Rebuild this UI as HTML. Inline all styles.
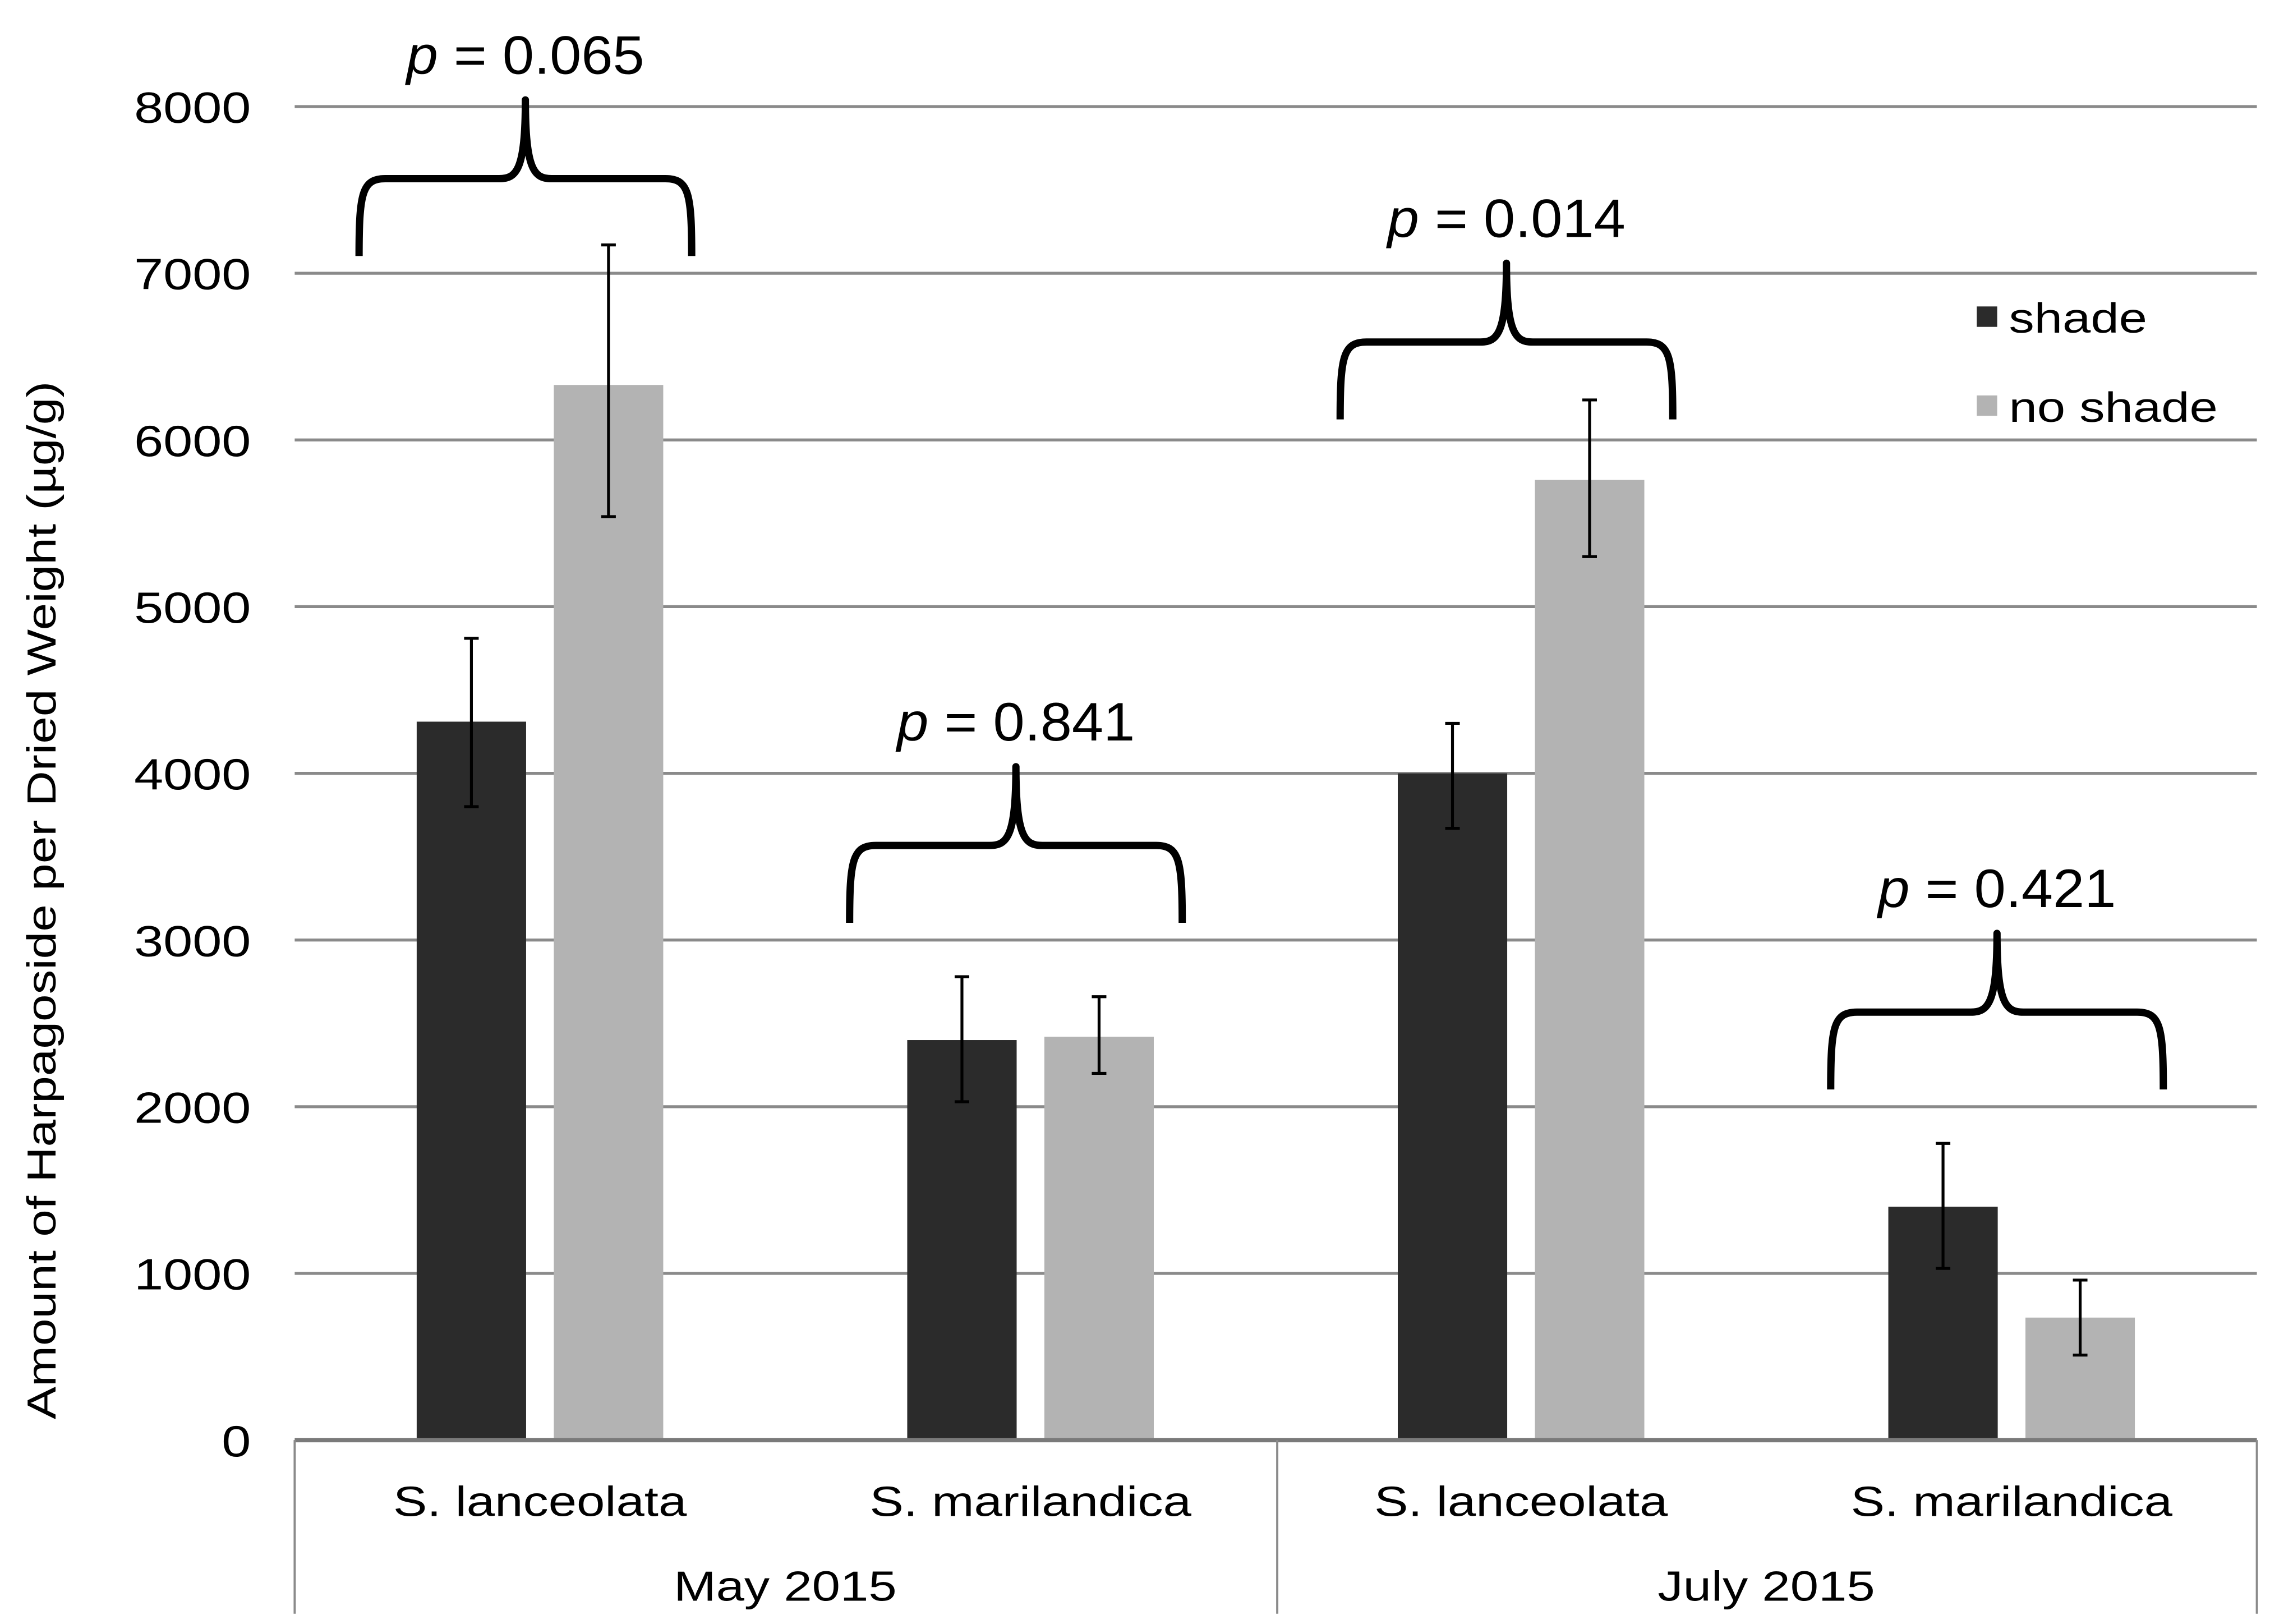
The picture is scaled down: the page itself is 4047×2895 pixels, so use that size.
<!DOCTYPE html>
<html><head><meta charset="utf-8"><style>
html,body{margin:0;padding:0;background:#fff;}
svg{display:block;font-family:"Liberation Sans",Arial,sans-serif;}
</style></head><body>
<svg id="chart" width="4047" height="2895" viewBox="0 0 1556 1113" xmlns="http://www.w3.org/2000/svg"></svg>
<script>
const yTicks = [0,1000,2000,3000,4000,5000,6000,7000,8000];
const species = ["S. lanceolata","S. marilandica","S. lanceolata","S. marilandica"];
const months = ["May 2015","July 2015"];
const shadeVals = [4310,2400,4000,1400];
const shadeHi = [4810,2780,4300,1780];
const shadeLo = [3800,2030,3670,1030];
const noShadeVals = [6330,2420,5760,735];
const noShadeHi = [7170,2660,6240,960];
const noShadeLo = [5540,2200,5300,510];
const pLabels = ["0.065","0.841","0.014","0.421"];
const braceTop = [8040,4040,7060,3040];

const svg = document.getElementById('chart');
const NS = "http://www.w3.org/2000/svg";
const X0 = 202, X1 = 1547, Y0 = 987, Ytop = 73, YMAX = 8000;
const y = v => Y0 - (v / YMAX) * (Y0 - Ytop);
const groupW = (X1 - X0) / species.length;
const gc = i => X0 + groupW * (i + 0.5);
const BW = 75, GAP = 19;

function mk(tag, attrs, parent) {
  const e = document.createElementNS(NS, tag);
  for (const k in attrs) e.setAttribute(k, attrs[k]);
  (parent || svg).appendChild(e);
  return e;
}
function txt(x, yy, size, anchor, extra, sx) {
  return mk('text', {x:0, y:0, transform:`translate(${x},${yy}) ${extra||''} scale(${sx||1.2},1)`, 'text-anchor':anchor, 'font-size':size, fill:'#000'});
}

yTicks.forEach(t => {
  if (t > 0) {
    const g = mk('line', {x1:X0, x2:X1, y1:y(t), y2:y(t), stroke:'#8a8a8a', 'stroke-width':2});
    
    
  }
  const tl = txt(172, y(t)+11, 30, 'end');
  tl.textContent = t;
  
  
});

const yt = txt(38, 617, 28, 'middle', 'rotate(-90)');
yt.textContent = 'Amount of Harpagoside per Dried Weight (µg/g)';



function bar(i, val, hi, lo, dx, color, name) {
  const cx = gc(i) + dx;
  const r = mk('rect', {x:cx - BW/2, y:y(val), width:BW, height:Y0 - y(val), fill:color});
  
  
  const eb = mk('path', {d:`M${cx},${y(hi)}V${y(lo)}M${cx-5},${y(hi)}H${cx+5}M${cx-5},${y(lo)}H${cx+5}`, stroke:'#000', 'stroke-width':2, fill:'none'});
  
  
}
species.forEach((s, i) => {
  bar(i, shadeVals[i], shadeHi[i], shadeLo[i], -(BW+GAP)/2, '#2b2b2b', 'shade');
  bar(i, noShadeVals[i], noShadeHi[i], noShadeLo[i], (BW+GAP)/2, '#b3b3b3', 'no-shade');
});

const ax = mk('path', {d:`M${X0},${Y0}H${X1}`, stroke:'#7a7a7a', 'stroke-width':3});


const dv = mk('path', {d:`M${X0},${Y0}V1106M${(X0+X1)/2+1},${Y0}V1106M${X1},${Y0}V1106`, stroke:'#8a8a8a', 'stroke-width':1.5});



species.forEach((s, i) => {
  const t = txt(gc(i), 1039, 29, 'middle');
  t.textContent = s;
  
  
});
months.forEach((m, j) => {
  const t = txt((gc(2*j)+gc(2*j+1))/2, 1097, 29, 'middle');
  t.textContent = m;
  
  
});

const braceShift = -10;
species.forEach((s, i) => {
  const yT = y(braceTop[i]);
  const yh = yT + 54, yE = yh + 53;
  const cx = gc(i) + braceShift, x0 = cx - 114, x1 = cx + 114;
  const d = `M${x0},${yE} C${x0},${yh+10} ${x0+2},${yh} ${x0+18},${yh} L${cx-18},${yh} C${cx-6},${yh} ${cx},${yh-6} ${cx},${yT} C${cx},${yh-6} ${cx+6},${yh} ${cx+18},${yh} L${x1-18},${yh} C${x1-2},${yh} ${x1},${yh+10} ${x1},${yE}`;
  const b = mk('path', {d:d, stroke:'#000', 'stroke-width':5, fill:'none', 'stroke-linejoin':'round'});
  
  
  const t = txt(cx, yT - 18, 37, 'middle', '', 1.05);
  t.innerHTML = '<tspan font-style="italic">p</tspan> = ' + pLabels[i];
  
  
});

[['shade','#2b2b2b',217],['no shade','#b3b3b3',278]].forEach(([n,c,yy]) => {
  const r = mk('rect', {x:1355, y:yy-7, width:14, height:14, fill:c});
  
  
  const t = txt(1377, yy+11, 29, 'start');
  t.textContent = n;
  
  
});
</script>
</body></html>
